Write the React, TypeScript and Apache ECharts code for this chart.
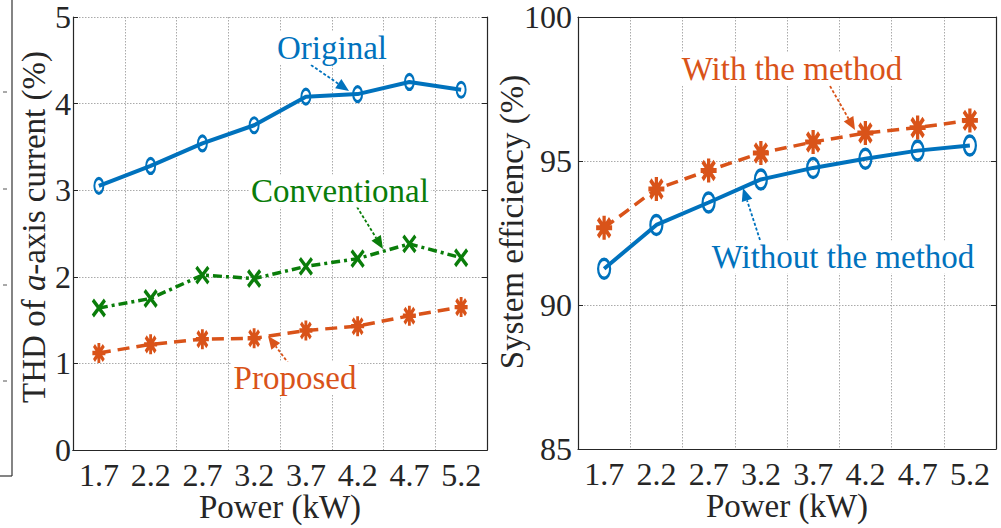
import React, { useEffect, useRef } from "react";
import * as echarts from "echarts";

const categories = ["1.7", "2.2", "2.7", "3.2", "3.7", "4.2", "4.7", "5.2"];
const thdOriginal = [3.05, 3.28, 3.54, 3.75, 4.08, 4.11, 4.25, 4.16];
const thdConventional = [1.64, 1.75, 2.02, 1.98, 2.12, 2.21, 2.38, 2.22];
const thdProposed = [1.12, 1.22, 1.28, 1.29, 1.38, 1.43, 1.55, 1.65];
const effWithout = [91.26, 92.78, 93.56, 94.36, 94.76, 95.08, 95.36, 95.54];
const effWith = [92.68, 94.03, 94.67, 95.28, 95.66, 95.97, 96.16, 96.41];

const BLUE = "#0072BD";
const ORANGE = "#D95319";
const GREEN = "#0a7d0a";
const INK = "#262626";
const FONT = "'Liberation Serif', 'Times New Roman', serif";

const annotations = [
  { text: "Original", color: BLUE, x: 332, y: 48, from: [311, 65], to: [349, 91] },
  { text: "Conventional", color: GREEN, x: 340, y: 191, from: [357, 207], to: [383, 249] },
  { text: "Proposed", color: ORANGE, x: 295, y: 378, from: [292, 368], to: [268, 336] },
  { text: "With the method", color: ORANGE, x: 792, y: 69, from: [830, 86], to: [855, 130] },
  { text: "Without the method", color: BLUE, x: 843, y: 257, from: [760, 240], to: [743, 188] },
];

const ELLIPSE = "path://M0,-1A1,1,0,1,1,0,1A1,1,0,1,1,0,-1Z";
const STAR = "path://M0,-1L0,1M-1,0L1,0M-0.75,-0.75L0.75,0.75M-0.75,0.75L0.75,-0.75";
const CROSS = "path://M-1,-1L1,1M-1,1L1,-1";

function arrowGraphics(a: any) {
  const [x0, y0] = a.from;
  const [x1, y1] = a.to;
  const dx = x1 - x0;
  const dy = y1 - y0;
  const len = Math.sqrt(dx * dx + dy * dy);
  const ux = dx / len;
  const uy = dy / len;
  const headLen = 13;
  const headHalf = 5.5;
  const bx = x1 - ux * headLen;
  const by = y1 - uy * headLen;
  return [
    {
      type: "line",
      z: 50,
      shape: { x1: x0, y1: y0, x2: bx, y2: by },
      style: { stroke: a.color, lineWidth: 1.8, lineDash: [3, 2] },
    },
    {
      type: "polygon",
      z: 50,
      shape: {
        points: [
          [x1, y1],
          [bx - uy * headHalf, by + ux * headHalf],
          [bx + uy * headHalf, by - ux * headHalf],
        ],
      },
      style: { fill: a.color },
    },
    {
      type: "text",
      z: 51,
      x: a.x,
      y: a.y,
      style: {
        text: a.text,
        fill: a.color,
        fontFamily: FONT,
        fontSize: 33,
        align: "center",
        verticalAlign: "middle",
        backgroundColor: "#fff",
        padding: [0, 2],
      },
    },
  ];
}

function xAxes(gridIndex: number) {
  return [
    {
      gridIndex,
      type: "category",
      data: categories,
      boundaryGap: true,
      axisLine: { lineStyle: { color: INK, width: 1.2 } },
      axisTick: { inside: true, length: 5, lineStyle: { color: INK } },
      axisLabel: { color: INK, fontFamily: FONT, fontSize: 32, lineHeight: 24, margin: 13, interval: 0 },
      splitLine: { show: true, lineStyle: { color: "#aaa", type: [1.5, 1.5], width: 1 } },
      name: "Power (kW)",
      nameLocation: "middle",
      nameGap: 44,
      nameMoveOverlap: false,
      nameTextStyle: { color: INK, fontFamily: FONT, fontSize: 33, lineHeight: 26 },
    },
    {
      gridIndex,
      type: "category",
      position: "top",
      data: categories,
      boundaryGap: true,
      axisLine: { lineStyle: { color: INK, width: 1.2 } },
      axisTick: { inside: true, length: 5, lineStyle: { color: INK } },
      axisLabel: { show: false },
      splitLine: { show: false },
    },
  ];
}

function yAxes(gridIndex: number, min: number, max: number, interval: number, margin: number) {
  return [
    {
      gridIndex,
      type: "value",
      min,
      max,
      interval,
      axisLine: { show: true, lineStyle: { color: INK, width: 1.2 } },
      axisTick: { show: true, inside: true, length: 5, lineStyle: { color: INK } },
      axisLabel: { color: INK, fontFamily: FONT, fontSize: 32, margin },
      splitLine: { show: true, lineStyle: { color: "#aaa", type: [1.5, 1.5], width: 1 } },
    },
    {
      gridIndex,
      type: "value",
      position: "right",
      min,
      max,
      interval,
      axisLine: { show: true, lineStyle: { color: INK, width: 1.2 } },
      axisTick: { show: true, inside: true, length: 5, lineStyle: { color: INK } },
      axisLabel: { show: false },
      splitLine: { show: false },
    },
  ];
}

function lineSeries(
  name: string,
  data: number[],
  axis: number,
  color: string,
  lineType: any,
  lineWidth: number,
  symbol: string,
  symbolSize: number[],
  borderWidth: number
) {
  return {
    name,
    type: "line",
    xAxisIndex: axis,
    yAxisIndex: axis,
    data,
    symbol,
    symbolSize,
    showSymbol: true,
    lineStyle: { color, width: lineWidth, type: lineType },
    itemStyle: { color: "rgba(0,0,0,0)", borderColor: color, borderWidth },
    z: 5,
  };
}

export default function App() {
  const ref = useRef<HTMLDivElement>(null);
  useEffect(() => {
    if (!ref.current) return;
    const chart = echarts.init(ref.current, undefined, { renderer: "svg" });

    const frame: any[] = [
      { type: "line", shape: { x1: 12, y1: 0, x2: 12, y2: 476 }, style: { stroke: "#333", lineWidth: 1.2 } },
      { type: "line", shape: { x1: 0, y1: 476, x2: 12, y2: 476 }, style: { stroke: "#333", lineWidth: 1.2 } },
      ...[92, 189, 285, 381].map((y) => ({
        type: "line",
        shape: { x1: 3, y1: y, x2: 7, y2: y },
        style: { stroke: "#555", lineWidth: 1 },
      })),
    ];

    const titles: any[] = [
      {
        type: "text",
        x: 34,
        y: 227,
        rotation: Math.PI / 2,
        style: {
          text: "THD of {i|a}-axis current (%)",
          fill: INK,
          fontFamily: FONT,
          fontSize: 33,
          align: "center",
          verticalAlign: "middle",
          rich: { i: { fontStyle: "italic", fontFamily: FONT, fontSize: 33, fill: INK } },
        },
      },
      {
        type: "text",
        x: 512,
        y: 222,
        rotation: Math.PI / 2,
        style: {
          text: "System efficiency (%)",
          fill: INK,
          fontFamily: FONT,
          fontSize: 33,
          align: "center",
          verticalAlign: "middle",
        },
      },
    ];

    chart.setOption({
      animation: false,
      backgroundColor: "#fff",
      textStyle: { fontFamily: FONT },
      grid: [
        { left: 73, top: 17, width: 414, height: 433, outerBoundsMode: "none", containLabel: false },
        { left: 578, top: 17, width: 418, height: 432, outerBoundsMode: "none", containLabel: false },
      ],
      xAxis: [...xAxes(0), ...xAxes(1)],
      yAxis: [...yAxes(0, 0, 5, 1, 2), ...yAxes(1, 85, 100, 5, 6)],
      series: [
        lineSeries("Original", thdOriginal, 0, BLUE, "solid", 4, ELLIPSE, [9, 15], 2.5),
        lineSeries("Conventional", thdConventional, 0, GREEN, [9, 4, 3, 4], 3.5, CROSS, [12, 16], 3.5),
        lineSeries("Proposed", thdProposed, 0, ORANGE, [12, 7], 3.5, STAR, [13, 20], 3.5),
        lineSeries("Without the method", effWithout, 2, BLUE, "solid", 4, ELLIPSE, [12, 19], 2.8),
        lineSeries("With the method", effWith, 2, ORANGE, [12, 7], 3.5, STAR, [16, 24], 4),
      ],
      graphic: [...frame, ...titles, ...annotations.flatMap(arrowGraphics)],
    });
    return () => chart.dispose();
  }, []);
  return (
    <div
      ref={ref}
      style={{ position: "fixed", left: 0, top: 0, width: 1001, height: 528, background: "#fff" }}
    />
  );
}
